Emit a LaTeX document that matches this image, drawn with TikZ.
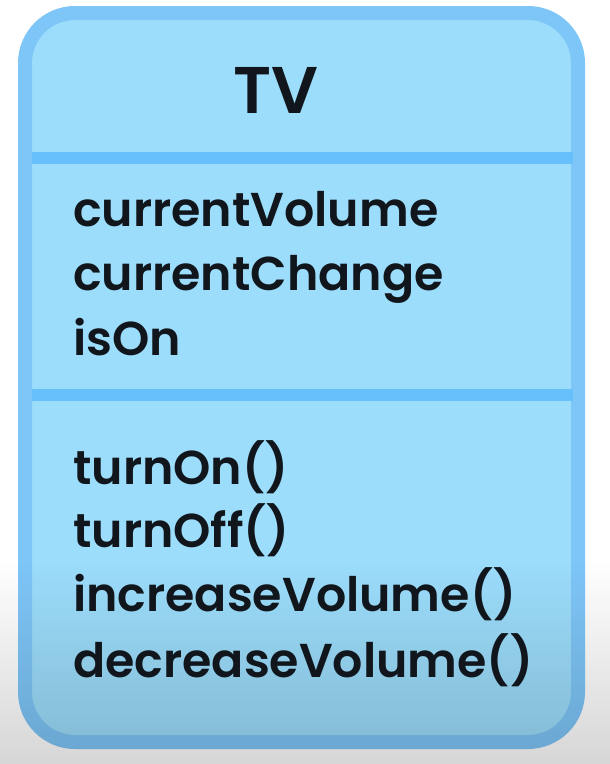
\documentclass[tikz,border=0pt]{standalone}
\usepackage{fontspec}
\setmainfont{Poppins}[BoldFont={Poppins SemiBold}]
\usetikzlibrary{fadings}
\definecolor{boxfill}{HTML}{9CDDFB}
\definecolor{boxline}{HTML}{7EC6F8}
\definecolor{divline}{HTML}{67C0FB}
\definecolor{ink}{HTML}{11161C}
\tikzstyle{classbox}=[draw=boxline,fill=boxfill,line width=14pt,rounded corners=50pt]
\tikzstyle{divider} = [draw=divline,line width=12pt]
\tikzstyle{title}=[font=\bfseries\fontsize{66}{70}\selectfont,text=ink,inner sep=0pt]
\tikzstyle{member}=[font=\bfseries\fontsize{47.5}{52}\selectfont,text=ink,inner sep=0pt,anchor=base west]

\begin{document}
\begin{tikzpicture}[x=1pt,y=-1pt]
    % page frame and the grey shadow of the video at the bottom
    \useasboundingbox (0,0) rectangle (610,764);
    \fill[white] (0,0) rectangle (610,764);
    % First we draw the class box
    \path[classbox] (25,13) rectangle (578,742);
    \coordinate (d1w) at (32,158);
    \coordinate (d1e) at (573,158);
    \coordinate (d2w) at (32,395);
    \coordinate (d2e) at (573,395);
    \path[divider] (d1w) -- (d1e);
    \path[divider] (d2w) -- (d2e);
    \fill[black,opacity=0.16,path fading=north] (0,560) rectangle (610,764);

    % Then the texts
    \node[title] (tv) at (276,90) {TV};
    \foreach \pos/\name/\label in {{(73,226)/vol/currentVolume}, {(73,290)/chg/currentChange}, {(73,355)/ison/isOn},
    {(73,484)/on/turnOn()}, {(73,547)/off/turnOff()}, {(73,611)/inc/increaseVolume()}, {(73,677)/dec/decreaseVolume()}}
        \node[member] (\name) at \pos {\label};
\end{tikzpicture}
\end{document}
